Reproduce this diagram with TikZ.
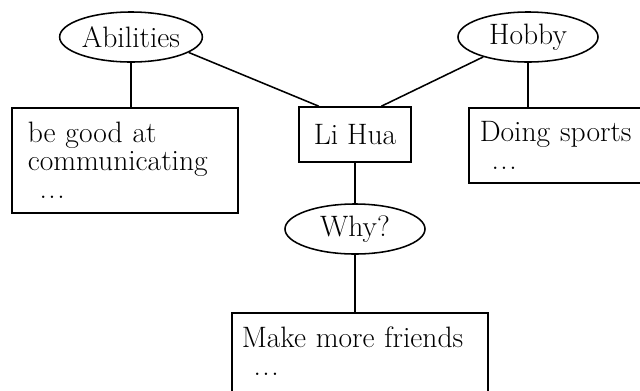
\documentclass[tikz,border=0pt]{standalone}
\usepackage{fontspec}
\usetikzlibrary{shapes.geometric}
\newcommand{\txt}{\fontsize{21}{20}\selectfont\addfontfeatures{LetterSpace=4}}
\newcommand{\more}{\hspace*{0.4em}.\kern0.05em.\kern0.05em.}
\tikzset{
  topic/.style={draw, ellipse, minimum width=3.5cm, minimum height=1.25cm, inner sep=1pt},
  note/.style={draw, rectangle, align=left, anchor=north west, inner ysep=0pt}
}

\begin{document}
\begin{tikzpicture}[x=0.025cm, y=-0.025cm, line width=1.1pt, every node/.style={font=\txt}]
\useasboundingbox (0,0) rectangle (640,390);
\clip (0,0) rectangle (640,390);
\node[topic, minimum width=3.55cm] (abil) at (131,37) {Abilities};
\node[topic] (hobby) at (528,37) {Hobby};
\node[draw, minimum width=2.8cm, minimum height=1.375cm] (lihua) at (355,134.5) {Li Hua};
\node[topic] (why) at (355,229) {Why?};
\node[note, text width=4.85cm, inner xsep=0.4cm, minimum height=2.625cm] (abilbox) at (11,107) {be good at\\communicating\\\more};
\node[note, text width=5cm, inner xsep=0.275cm, minimum height=1.875cm] (hobbybox) at (468,107) {Doing sports\\\more};
\node[note, text width=5.9cm, inner xsep=0.25cm, inner ysep=0.35cm, text depth=2cm] (makebox) at (231,312) {Make more friends\\\more};
\draw (abil.south) -- (abil.south |- abilbox.north);
\draw (abil.-15) -- (lihua.142);
\draw (hobby.204) -- (lihua.47);
\draw (hobby.south) -- (hobby.south |- hobbybox.north);
\draw (lihua) -- (why);
\draw (why.south) -- (why.south |- makebox.north);
\end{tikzpicture}
\end{document}
